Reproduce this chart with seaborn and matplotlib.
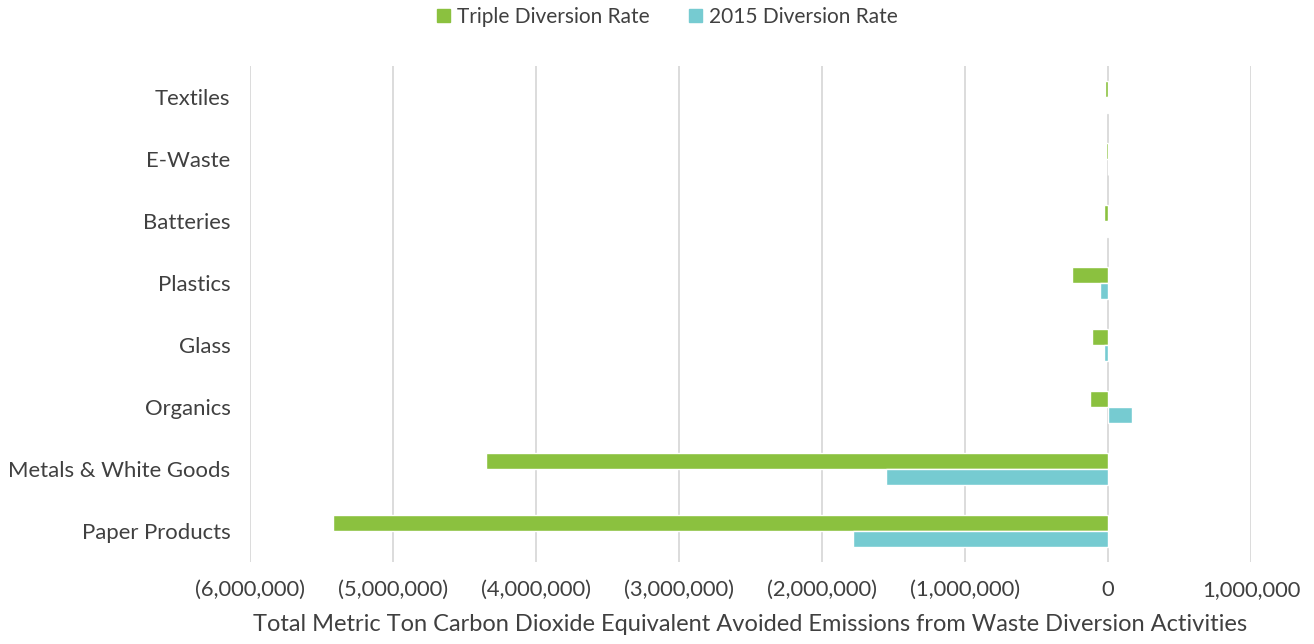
import matplotlib
matplotlib.use("Agg")
import matplotlib.pyplot as plt
import matplotlib.ticker as mticker
import seaborn as sns
import pandas as pd

categories = ["Textiles", "E-Waste", "Batteries", "Plastics", "Glass",
              "Organics", "Metals & White Goods", "Paper Products"]
triple_rate = [-19000, -14000, -30000, -250000, -110000, -126000, -4350000, -5420000]
rate_2015 = [-4000, -2000, -5000, -56000, -28000, 165000, -1550000, -1780000]
series_names = ["Triple Diversion Rate", "2015 Diversion Rate"]
x_label = "Total Metric Ton Carbon Dioxide Equivalent Avoided Emissions from Waste Diversion Activities"

df = pd.DataFrame({
    "Category": categories * 2,
    "Emissions": triple_rate + rate_2015,
    "Scenario": [series_names[0]] * len(categories) + [series_names[1]] * len(categories),
})

sns.set_theme(style="white")
plt.rcParams["font.family"] = ["Lato", "DejaVu Sans"]
text_color = "#404040"
colors = ["#8BC13F", "#76CBD1"]

fig = plt.figure(figsize=(13.14, 6.44), dpi=100)
ax = fig.add_axes([0.1903, 0.1273, 0.7617, 0.7702])

sns.barplot(data=df, x="Emissions", y="Category", hue="Scenario",
            order=categories, hue_order=series_names,
            palette=colors, orient="h", width=0.52,
            saturation=1, ax=ax, legend=False)

ax.set_xlim(-6000000, 1000000)
ax.set_ylim(len(categories) - 0.5, -0.5)
ax.xaxis.set_major_locator(mticker.MultipleLocator(1000000))

def fmt(v, pos):
    if v < 0:
        return "({:,.0f})".format(-v)
    if v == 0:
        return "0"
    return "{:,.0f}".format(v)

ax.xaxis.set_major_formatter(mticker.FuncFormatter(fmt))
ax.grid(axis="x", color="#d9d9d9", linewidth=1.3)
ax.grid(axis="y", visible=False)
ax.set_axisbelow(True)
for s in ax.spines.values():
    s.set_visible(False)

ax.tick_params(axis="x", labelsize=15.8, colors=text_color, pad=13, length=0)
ax.tick_params(axis="y", labelsize=15.9, colors=text_color, pad=14, length=0)
ax.set_ylabel("")
ax.set_xlabel(x_label, fontsize=17, color=text_color, labelpad=10)

handles = [plt.Rectangle((0, 0), 1, 1, color=c) for c in colors]
fig.legend(handles, series_names, loc="upper center", bbox_to_anchor=(0.508, 1.018),
           ncol=2, frameon=False, fontsize=15, handlelength=0.6, handleheight=0.6,
           handletextpad=0.35, columnspacing=1.9, labelcolor=text_color)

fig.savefig("out.png", dpi=100)
